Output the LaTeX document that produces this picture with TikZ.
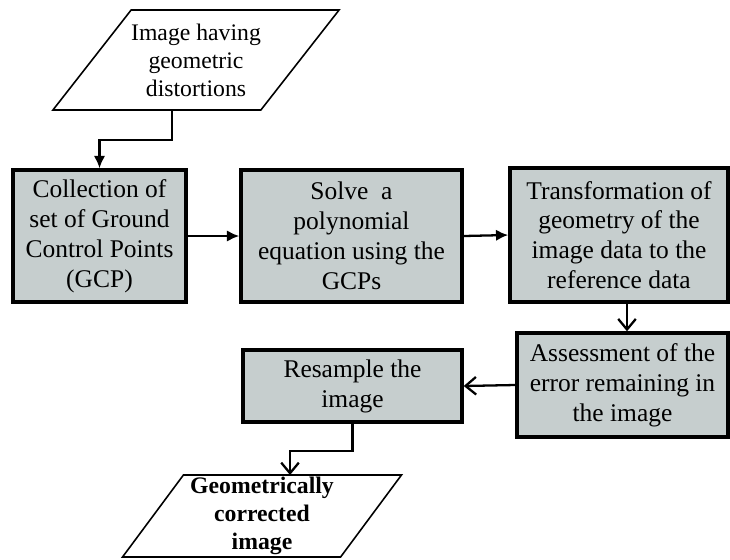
\documentclass[tikz,border=0pt]{standalone}
\usepackage{fontspec}
\setmainfont{Liberation Serif}
\usetikzlibrary{shapes.geometric, arrows.meta, calc}
\definecolor{boxgray}{RGB}{198,206,206}

\begin{document}
\begin{tikzpicture}[x=0.02cm, y=-0.02cm, >={Latex[length=7pt,width=6.5pt]},
    proc/.style={draw, line width=2pt, fill=boxgray, align=center, inner sep=0pt, font=\fontsize{14.5}{17}\selectfont},
    io/.style={draw, line width=0.9pt, trapezium, trapezium stretches body=true, align=center, inner sep=0pt, outer sep=0pt},
    link/.style={line width=1.3pt},
    barb/.style={-{Straight Barb[length=6pt,width=10pt]}}]
    \useasboundingbox (0,0) rectangle (730,559);

    % input and output images
    \node[io, trapezium left angle=43, trapezium right angle=137, minimum width=5.24cm, minimum height=2cm,
          font=\fontsize{13.5}{16}\selectfont] (img-in) at (196,60) {Image having\\geometric\\distortions};
    \node[io, trapezium left angle=52, trapezium right angle=128, minimum width=5.58cm, minimum height=1.64cm,
          font=\bfseries\fontsize{13.5}{16}\selectfont] (img-out) at (262,516) {Geometrically\\corrected\\image};

    % processing steps
    \node[proc, minimum width=3.46cm, minimum height=2.64cm] (gcp) at (99.5,236) {Collection of\\set of Ground\\Control Points\\(GCP)};
    \node[proc, minimum width=4.42cm, minimum height=2.64cm] (solve) at (351.5,236) {Solve~~a\\polynomial\\equation using the\\GCPs};
    \node[proc, minimum width=4.36cm, minimum height=2.68cm] (transform) at (619,235) {Transformation of\\geometry of the\\image data to the\\reference data};
    \node[proc, minimum width=4.22cm, minimum height=2.08cm] (assess) at (622.5,385) {Assessment of the\\error remaining in\\the image};
    \node[proc, minimum width=4.38cm, minimum height=1.44cm] (resample) at (352.5,386) {Resample the\\image};

    \draw[link, ->] ([xshift=-0.48cm]img-in.south) -- ++(0,30) -| (gcp.north);
    \draw[link, ->] (gcp.east) -- (solve.west);
    \draw[link, ->] (solve.east) -- (transform.west);
    \draw[link, barb] ([xshift=0.09cm]transform.south -| assess.north) -- ([xshift=0.09cm]assess.north);
    \draw[link, barb] (assess.west) -- (resample.east);
    \draw[link, barb] (resample.south) -- ++(0,27) -| ([xshift=0.56cm]img-out.north);
\end{tikzpicture}
\end{document}
